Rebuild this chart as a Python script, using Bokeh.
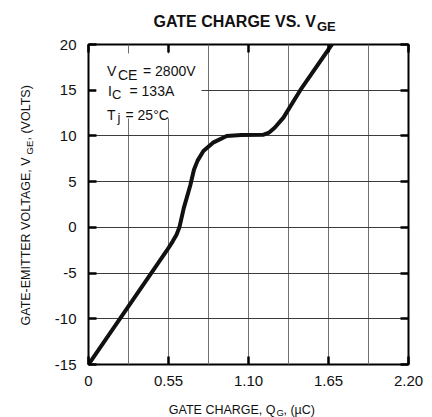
import math
from bokeh.plotting import figure
from bokeh.models import (Range1d, FixedTicker, LinearAxis, Label, BoxAnnotation,
                          CustomJSTickFormatter)
from bokeh.embed import file_html
from bokeh.resources import INLINE

# ---------------- data ----------------
GATE_CHARGE = [0, 0.54, 0.58, 0.605, 0.625, 0.655, 0.70, 0.725, 0.75, 0.79, 0.86,
               0.95, 1.05, 1.20, 1.24, 1.28, 1.34, 1.456, 1.673]
VGE = [-15, -2.5, -1.5, -0.8, 0.0, 2.1, 4.6, 6.3, 7.3, 8.35, 9.3,
       10.0, 10.1, 10.12, 10.35, 10.9, 12.0, 15.0, 20.0]
X_TICKS = [0, 0.55, 1.10, 1.65, 2.20]
X_GRID = [0, 0.275, 0.55, 0.825, 1.10, 1.375, 1.65, 1.925, 2.20]
Y_TICKS = [-15, -10, -5, 0, 5, 10, 15, 20]

FONT = "Liberation Sans"
W, H = 432, 417
BL, BR, BT, BB = 88, 24, 44, 53   # borders -> frame (88,44)-(408,364)

def sx(px):   # page x -> frame-relative screen x
    return px - BL

def sy(py):   # page y -> frame-relative screen y (upwards from frame bottom)
    return (H - BB) - py

p = figure(width=W, height=H,
           x_range=Range1d(0, 2.2), y_range=Range1d(-15, 20),
           output_backend="svg", toolbar_location=None,
           min_border_left=BL, min_border_right=BR,
           min_border_top=BT, min_border_bottom=BB,
           background_fill_color="white", border_fill_color="white")
p.outline_line_color = "black"
p.outline_line_width = 2

xfmt = CustomJSTickFormatter(code="return tick == 0 ? '0' : tick.toFixed(2);")
yfmt = CustomJSTickFormatter(code="return String(tick);")
blank = CustomJSTickFormatter(code="return '';")

xa = p.xaxis[0]
xa.ticker = FixedTicker(ticks=X_TICKS)
xa.formatter = xfmt
ya = p.yaxis[0]
ya.ticker = FixedTicker(ticks=Y_TICKS)
ya.formatter = yfmt

for ax in (xa, ya):
    ax.axis_line_color = None
    ax.major_tick_in = 8
    ax.major_tick_out = 0
    ax.major_tick_line_width = 2.5
    ax.major_tick_line_color = "black"
    ax.minor_tick_line_color = None
    ax.major_label_text_font = FONT
    ax.major_label_text_font_size = "15px"
    ax.major_label_text_color = "#111111"
xa.major_label_standoff = 11
ya.major_label_standoff = 12

# inward ticks on the top and right edges
top = LinearAxis(ticker=FixedTicker(ticks=X_TICKS), formatter=blank, axis_line_color=None,
                 major_tick_in=8, major_tick_out=0, major_tick_line_width=2.5,
                 minor_tick_line_color=None, major_label_standoff=0)
right = LinearAxis(ticker=FixedTicker(ticks=Y_TICKS), formatter=blank, axis_line_color=None,
                   major_tick_in=8, major_tick_out=0, major_tick_line_width=2.5,
                   minor_tick_line_color=None, major_label_standoff=0)
p.add_layout(top, "above")
p.add_layout(right, "right")

p.xgrid.ticker = FixedTicker(ticks=X_GRID)
p.xgrid.grid_line_color = "#707070"
p.xgrid.grid_line_width = 1
p.ygrid.ticker = FixedTicker(ticks=Y_TICKS)
p.ygrid.grid_line_color = "#3c3c3c"
p.ygrid.grid_line_width = 1

# white box behind the conditions text
p.add_layout(BoxAnnotation(left=sx(96), right=sx(201), top=sy(53), bottom=sy(118),
                           left_units="screen", right_units="screen",
                           top_units="screen", bottom_units="screen",
                           fill_color="white", fill_alpha=1.0, line_color=None))

p.line(GATE_CHARGE, VGE, line_width=4, line_color="#111111",
       line_join="round", line_cap="round")

# transparent text layer laid over the whole chart (page-pixel coordinates)
ov = figure(width=W, height=H, x_range=Range1d(0, W), y_range=Range1d(H, 0),
            output_backend="svg", toolbar_location=None,
            x_axis_location=None, y_axis_location=None, min_border=0,
            background_fill_color=None, border_fill_color=None,
            outline_line_color=None)
ov.grid.visible = False
ov.styles = {"position": "absolute", "left": "0px", "top": "0px",
             "pointer-events": "none"}

def lab(text, px, py, size, bold=False, angle=0.0, color="#111111"):
    ov.add_layout(Label(x=px, y=py, text=text, text_font=FONT,
                        text_font_size=f"{size}px",
                        text_font_style="bold" if bold else "normal",
                        text_baseline="alphabetic", text_align="left",
                        angle=angle, text_color=color))

# conditions
lab("V", 106.5, 70, 14)
lab("CE", 117.5, 74.5, 14)
lab("= 2800V", 142.5, 70, 14)
lab("I", 107.5, 90.7, 14)
lab("C", 111.5, 93.5, 13)
lab("= 133A", 129, 90.7, 14)
lab("T", 106.5, 114, 14)
lab("j", 117, 117, 13)
lab("= 25°C", 125, 114, 14)

# title
lab("GATE CHARGE VS. V", 153, 20.7, 16, bold=True)
lab("GE", 316.5, 25.5, 13, bold=True)

# x axis label
lab("GATE CHARGE, Q", 168.3, 409, 12.5)
lab("G", 276, 411.5, 9.5)
lab(", (µC)", 283, 409, 12.5)

# y axis label (rotated, reading upwards)
lab("GATE-EMITTER VOLTAGE, V", 25, 325, 12.5, angle=math.pi / 2)
lab("GE", 28.5, 154, 9.5, angle=math.pi / 2)
lab(", (VOLTS)", 25, 140, 12.5, angle=math.pi / 2)

open("out.html", "w").write(file_html([p, ov], INLINE))
